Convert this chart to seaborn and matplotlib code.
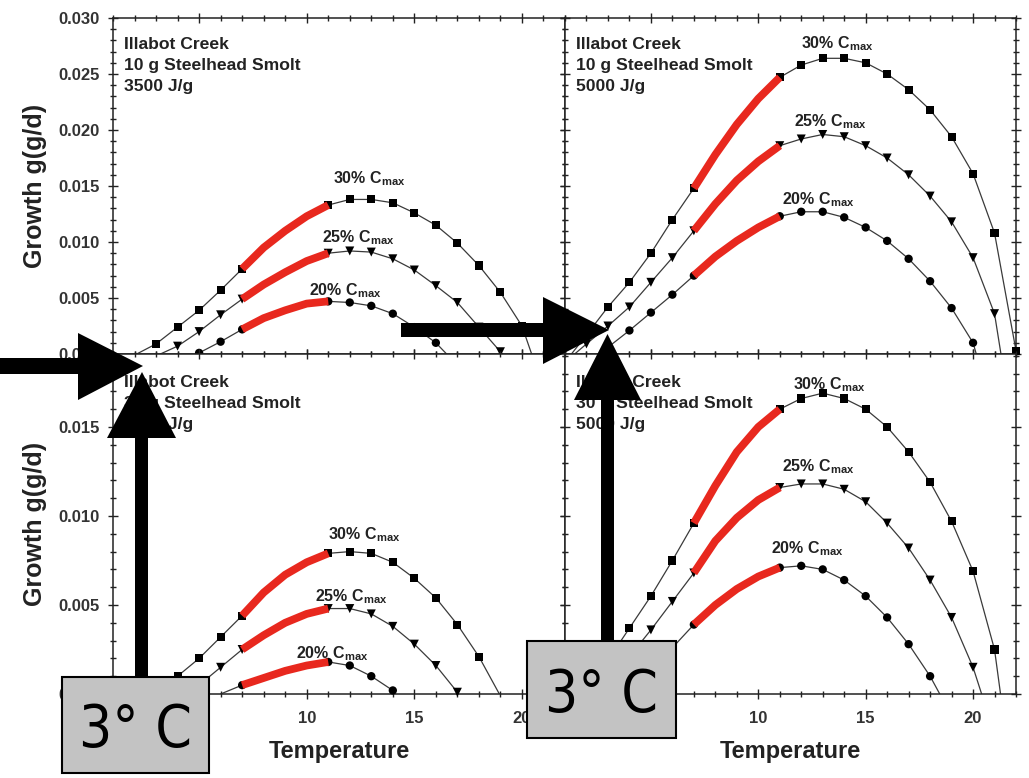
import matplotlib
matplotlib.use("Agg")
import numpy as np
import pandas as pd
import matplotlib.pyplot as plt
import seaborn as sns
from matplotlib import font_manager as fm
from matplotlib.patches import Polygon, Rectangle
from matplotlib.ticker import MultipleLocator, FixedLocator, FormatStrFormatter

# ---------------- data ----------------
temperature = list(range(1, 23))
N = None

# top-left: 10 g smolt, 3500 J/g
tl_30 = [N, N, .0009, .0024, .0039, .0057, .0076, .0095, .0110, .0123, .0133, .0138,
         .0138, .0135, .0126, .0115, .0099, .0079, .0055, .0025, N, N]
tl_25 = [N, N, N, .0007, .0020, .0035, .0049, .0062, .0073, .0083, .0090, .0092,
         .0091, .0085, .0075, .0061, .0046, .0024, .0002, N, N, N]
tl_20 = [N, N, N, N, .0001, .0011, .0022, .0032, .0039, .0045, .0047, .0046,
         .0043, .0036, .0024, .0010, N, N, N, N, N, N]
# top-right: 10 g smolt, 5000 J/g
tr_30 = [N, .0017, .0042, .0064, .0090, .0120, .0148, .0178, .0205, .0228, .0247, .0258,
         .0264, .0264, .0260, .0250, .0236, .0218, .0194, .0161, .0108, .0003]
tr_25 = [N, .0009, .0025, .0042, .0064, .0086, .0110, .0134, .0155, .0172, .0186, .0192,
         .0196, .0194, .0186, .0175, .0160, .0141, .0118, .0086, .0036, N]
tr_20 = [N, N, .0006, .0021, .0037, .0053, .0070, .0087, .0101, .0113, .0123, .0127,
         .0127, .0122, .0113, .0101, .0085, .0065, .0041, .0010, N, N]
# bottom-left: 30 g smolt, 3500 J/g
bl_30 = [N, N, .0001, .0010, .0020, .0032, .0044, .0057, .0067, .0074, .0079, .0080,
         .0079, .0074, .0065, .0054, .0039, .0021, N, N, N, N]
bl_25 = [N, N, N, N, .0005, .0015, .0025, .0033, .0040, .0045, .0048, .0048,
         .0045, .0038, .0028, .0016, .0001, N, N, N, N, N]
bl_20 = [N, N, N, N, N, N, .0005, .0009, .0013, .0016, .0018, .0016,
         .0010, .0002, N, N, N, N, N, N, N, N]
# bottom-right: 30 g smolt, 5000 J/g
br_30 = [N, N, .0019, .0037, .0055, .0075, .0096, .0117, .0136, .0150, .0160, .0166,
         .0169, .0166, .0160, .0150, .0136, .0119, .0097, .0069, .0025, N]
br_25 = [N, N, N, .0021, .0036, .0052, .0068, .0086, .0099, .0109, .0116, .0118,
         .0118, .0115, .0108, .0096, .0082, .0064, .0043, .0015, N, N]
br_20 = [N, N, N, N, .0013, .0026, .0039, .0050, .0059, .0066, .0071, .0072,
         .0070, .0064, .0055, .0043, .0028, .0010, N, N, N, N]

# temperatures where each curve meets zero growth (start, end)
tl_zero = {"30": (2.1, 20.45), "25": (3.2, 19.1), "20": (4.9, 16.5)}
tr_zero = {"30": (1.3, None), "25": (1.45, 21.3), "20": (2.7, 20.15)}
bl_zero = {"30": (2.9, 18.95), "25": (4.5, 17.05), "20": (6.0, 14.1)}
br_zero = {"30": (2.1, 21.28), "25": (2.9, 20.4), "20": (4.0, 18.45)}

cmax_levels = ["30", "25", "20"]
highlight_range = (7, 11)

x_ticks = [5, 10, 15, 20]
x_tick_labels = ["", "10", "15", "20"]   # the "5" lies under the grey boxes

panel_titles = ["Illabot Creek\n10 g Steelhead Smolt\n3500 J/g",
                "Illabot Creek\n10 g Steelhead Smolt\n5000 J/g",
                "Illabot Creek\n30 g Steelhead Smolt\n3500 J/g",
                "Illabot Creek\n30 g Steelhead Smolt\n5000 J/g"]
box_text = "3\u00b0 C"

# ---------------- style ----------------
sns.set_style("ticks")
plt.rcParams["font.family"] = ["Liberation Sans", "DejaVu Sans"]
plt.rcParams["mathtext.default"] = "regular"

# find a narrow / condensed face for the grey boxes (lighter weight preferred)
narrow_fp = None
cands = []
for f in fm.fontManager.ttflist:
    nm = f.name
    st = str(f.stretch)
    is_narrow = ("Narrow" in nm or "Condensed" in nm or
                 st in ("condensed", "semi-condensed", "extra-condensed", "ultra-condensed"))
    if is_narrow and "Mono" not in nm and "CJK" not in nm and f.style == "normal":
        w = f.weight if isinstance(f.weight, int) else 400
        cands.append((abs(w - 350), 0 if "Sans" in nm else 1, f.fname))
if cands:
    cands.sort()
    narrow_fp = fm.FontProperties(fname=cands[0][2], size=42)

W, H = 1029, 778
fig = plt.figure(figsize=(W / 100, H / 100), dpi=100)
fig.patch.set_facecolor("white")


def ax_rect(x0, y0, x1, y1):
    return [x0 / W, 1 - y1 / H, (x1 - x0) / W, (y1 - y0) / H]


axes = {
    "tl": fig.add_axes(ax_rect(113, 18, 565, 354)),
    "tr": fig.add_axes(ax_rect(565, 18, 1016, 354)),
    "bl": fig.add_axes(ax_rect(113, 354, 565, 694)),
    "br": fig.add_axes(ax_rect(565, 354, 1016, 694)),
}

panels = {
    "tl": ({"30": tl_30, "25": tl_25, "20": tl_20}, tl_zero),
    "tr": ({"30": tr_30, "25": tr_25, "20": tr_20}, tr_zero),
    "bl": ({"30": bl_30, "25": bl_25, "20": bl_20}, bl_zero),
    "br": ({"30": br_30, "25": br_25, "20": br_20}, br_zero),
}

markers = {"30": ("s", 34), "25": ("v", 42), "20": ("o", 36)}

label_pos = {
    "tl": {"30": (11.2, .0152), "25": (10.7, .0100), "20": (10.1, .0052)},
    "tr": {"30": (12.0, .0273), "25": (11.65, .0203), "20": (11.1, .0134)},
    "bl": {"30": (11.0, .0087), "25": (10.4, .0052), "20": (9.5, .0020)},
    "br": {"30": (11.6, .0171), "25": (11.1, .0125), "20": (10.6, .0079)},
}

line_col = "#3a3a3a"
red = "#e8281e"
txt_col = "#222222"

for key, ax in axes.items():
    series, zeros = panels[key]
    for lvl in cmax_levels:
        vals = series[lvl]
        df = pd.DataFrame({"t": temperature, "g": vals}).dropna()
        z0, z1 = zeros[lvl]
        lt = list(df["t"])
        lg = list(df["g"])
        if z0 is not None:
            lt = [z0] + lt
            lg = [0.0] + lg
        if z1 is not None:
            lt = lt + [z1]
            lg = lg + [0.0]
        line_df = pd.DataFrame({"t": lt, "g": lg})
        sns.lineplot(data=line_df, x="t", y="g", ax=ax, color=line_col, lw=0.9,
                     estimator=None, sort=False, zorder=2)
        lo, hi = highlight_range
        mk_df = df[(df["t"] <= lo) | (df["t"] >= hi)]
        m, s = markers[lvl]
        sns.scatterplot(data=mk_df, x="t", y="g", ax=ax, marker=m, s=s,
                        color="black", edgecolor="none", zorder=3, clip_on=False)
        red_df = df[(df["t"] >= lo) & (df["t"] <= hi)]
        sns.lineplot(data=red_df, x="t", y="g", ax=ax, color=red, lw=5.6,
                     estimator=None, sort=False, zorder=4,
                     solid_capstyle="butt", solid_joinstyle="round")
        lx, ly = label_pos[key][lvl]
        ax.text(lx, ly, lvl + "% C$_{max}$", fontsize=11.5, fontweight="bold",
                color=txt_col, ha="left", va="baseline", zorder=5)

    ax.set_xlim(1, 22)
    top = key in ("tl", "tr")
    ax.set_ylim(0, 0.030 if top else 0.0191)
    ax.xaxis.set_major_locator(FixedLocator(x_ticks))
    ax.set_xticklabels(x_tick_labels)
    ax.xaxis.set_minor_locator(MultipleLocator(1))
    ax.yaxis.set_major_locator(MultipleLocator(0.005))
    ax.yaxis.set_minor_locator(MultipleLocator(0.001))
    ax.yaxis.set_major_formatter(FormatStrFormatter("%.3f"))
    ax.tick_params(which="both", direction="inout", top=True, right=True,
                   width=1.0, color="#222222", labelsize=12, labelcolor="#333333")
    ax.tick_params(which="major", length=7, pad=6)
    ax.tick_params(which="minor", length=4.5)
    ax.tick_params(axis="x", which="major", pad=9)
    for sp in ax.spines.values():
        sp.set_visible(True)
        sp.set_linewidth(1.1)
        sp.set_color("#222222")
    ax.tick_params(labelbottom=not top, labelleft=key in ("tl", "bl"))
    if key in ("tl", "bl"):
        ax.set_ylabel("Growth g(g/d)", fontsize=18, fontweight="bold",
                      color=txt_col, labelpad=8)
    else:
        ax.set_ylabel("")
    if not top:
        ax.set_xlabel("Temperature", fontsize=17, fontweight="bold",
                      color=txt_col, labelpad=10)
    else:
        ax.set_xlabel("")
    for lab in ax.get_yticklabels() + ax.get_xticklabels():
        lab.set_fontweight("bold")

    idx = ["tl", "tr", "bl", "br"].index(key)
    ax.text(0.024, 0.942 if top else 0.939, panel_titles[idx],
            transform=ax.transAxes, fontsize=12.6, fontweight="bold",
            color=txt_col, ha="left", va="top", linespacing=1.5, zorder=5)


# ---------------- overlay arrows and boxes (figure pixels) ----------------
def fp(pts):
    return [(x / W, 1 - y / H) for x, y in pts]


arrows = [
    [(0, 358), (78, 358), (78, 333), (143, 366), (78, 400), (78, 374), (0, 374)],
    [(135, 678), (135, 438), (107, 438), (142, 372), (176, 438), (148, 438), (148, 678)],
    [(401, 323), (543, 323), (543, 297), (609, 330), (543, 364), (543, 337), (401, 337)],
    [(601, 641), (601, 400), (574, 400), (607.5, 334), (641, 400), (614, 400), (614, 641)],
]
for pts in arrows:
    fig.add_artist(Polygon(fp(pts), closed=True, transform=fig.transFigure,
                           facecolor="black", edgecolor="none", zorder=10))

boxes = [((62, 677, 209, 773), 747), ((527, 641, 676, 738), 712)]
for (x0, y0, x1, y1), base in boxes:
    fig.add_artist(Rectangle((x0 / W, 1 - y1 / H), (x1 - x0) / W, (y1 - y0) / H,
                             transform=fig.transFigure, facecolor="#c3c3c3",
                             edgecolor="black", lw=1.5, zorder=11))
    if narrow_fp is not None:
        fig.text((x0 + x1) / 2 / W, 1 - base / H, box_text, fontproperties=narrow_fp,
                 color="black", ha="center", va="baseline", zorder=12)
    else:
        fig.text((x0 + x1) / 2 / W, 1 - base / H, box_text,
                 family=["DejaVu Sans"], fontsize=40, fontweight="light",
                 color="black", ha="center", va="baseline", zorder=12)

fig.savefig("out.png", dpi=100, facecolor="white")
